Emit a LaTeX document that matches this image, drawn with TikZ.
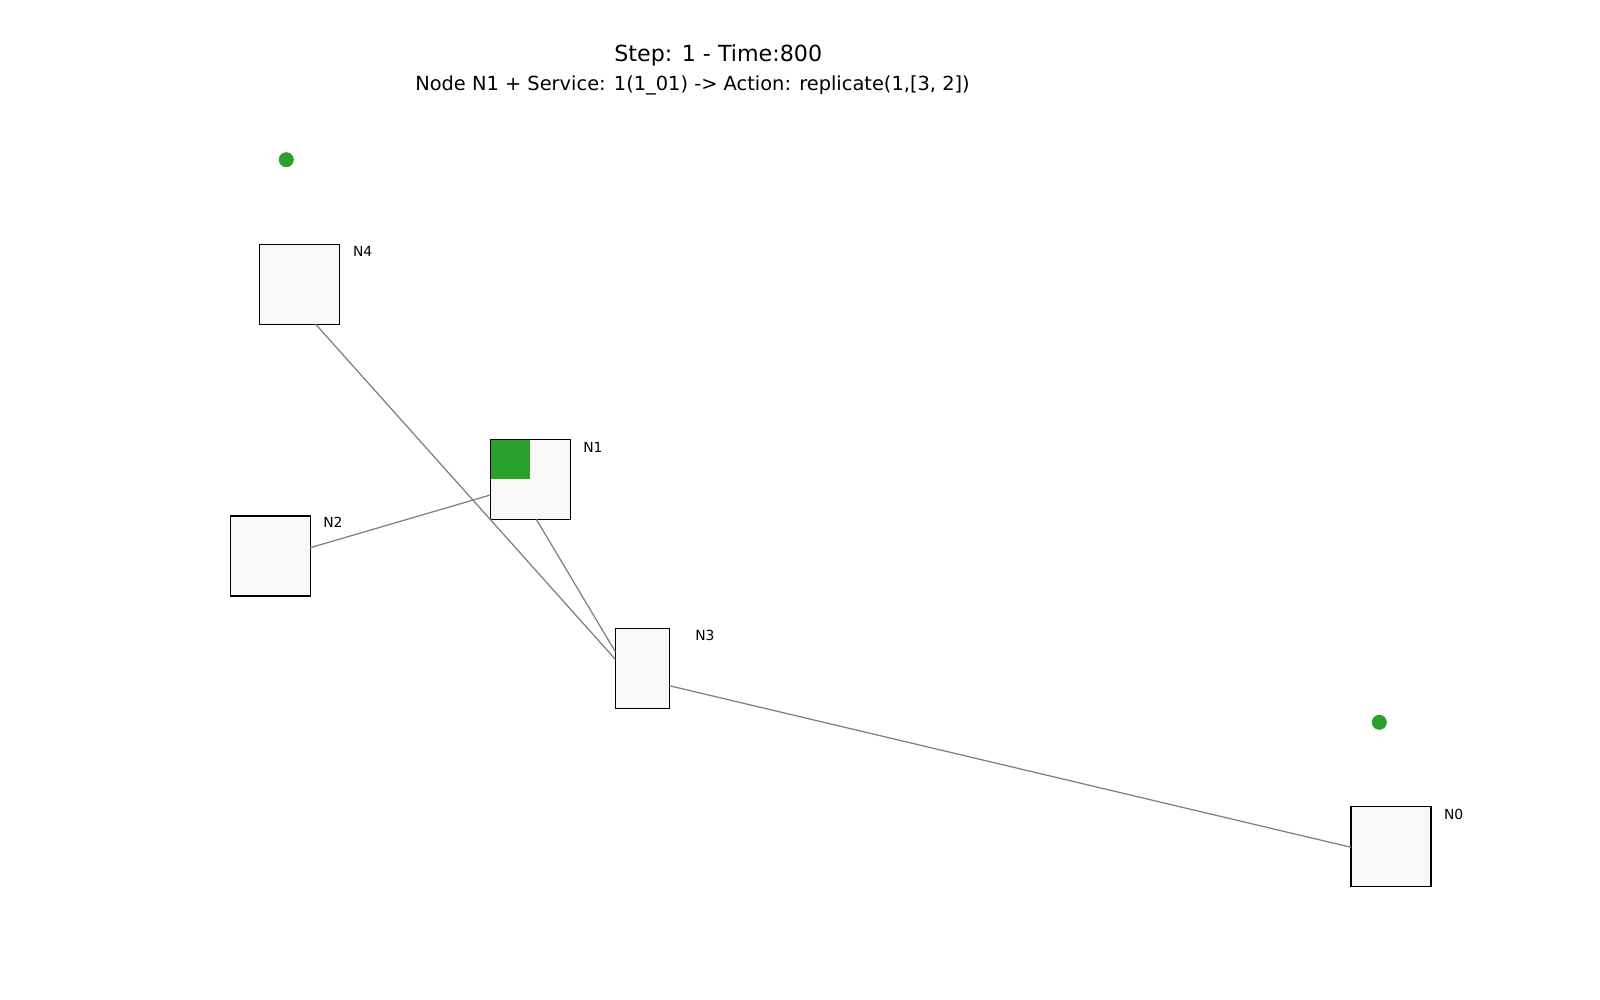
\documentclass[tikz,border=0pt]{standalone}
\usepackage{fontspec}
\setmainfont{DejaVu Sans}
\usetikzlibrary{calc}
\definecolor{boxfill}{HTML}{F8F8F8}
\definecolor{mplgreen}{HTML}{2CA02C}
\definecolor{edgegray}{HTML}{808080}
\tikzset{
  hostbox/.style={draw=black, line width=1.1pt, fill=boxfill, inner sep=0pt, outer sep=0pt, anchor=north west, minimum height=80pt},
  hostlabel/.style={anchor=base west, inner sep=0pt, font=\fontsize{13.9pt}{16pt}\selectfont},
  link/.style={draw=edgegray, line width=1.25pt},
  dot/.style={fill=mplgreen},
}
\begin{document}
\begin{tikzpicture}[x=1pt, y=-1pt]
\useasboundingbox (0,0) rectangle (1600,1000);
% titles
\node[anchor=base, inner sep=0pt, font=\fontsize{22.2pt}{26pt}\selectfont] (title) at (718.3,61.7) {Step: 1 - Time:800};
\node[anchor=base, inner sep=0pt, font=\fontsize{19.4pt}{23pt}\selectfont] (subtitle) at (692.5,91) {Node N1 + Service: 1(1\_01) -> Action: replicate(1,[3, 2])};
% boxes
\node[hostbox, minimum width=80pt] (n4) at (259.3,244.3) {};
\node[hostbox, minimum width=80pt] (n1) at (490.3,439.3) {};
\node[hostbox, minimum width=80pt] (n2) at (230.3,516) {};
\node[hostbox, minimum width=54pt] (n3) at (615.3,628.3) {};
\node[hostbox, minimum width=80pt] (n0) at (1351,806.3) {};
% green service square in N1
\fill[mplgreen] ($(n1.north west)+(0.55,0.55)$) rectangle ($(n1.north west)+(39.4,39.4)$);
% labels
\node[hostlabel] (l4) at ($(n4.north east)+(13.5,11.9)$) {N4};
\node[hostlabel] (l1) at ($(n1.north east)+(12.8,13.0)$) {N1};
\node[hostlabel] (l2) at ($(n2.north east)+(12.8,11.9)$) {N2};
\node[hostlabel] (l3) at ($(n3.north east)+(25.8,12.4)$) {N3};
\node[hostlabel] (l0) at ($(n0.north east)+(12.8,13.0)$) {N0};
% links
\draw[link] ($(n4.south west)+(56.4,0)$) -- ($(n3.north west)+(0,31)$);
\draw[link] ($(n1.south west)+(46,0)$) -- ($(n3.north west)+(0,23.4)$);
\draw[link] ($(n1.north west)+(0,55.7)$) -- ($(n2.north east)+(0,31.7)$);
\draw[link] ($(n3.north east)+(0,57.4)$) -- ($(n0.north west)+(0,41)$);
% green dots
\fill[dot] (286.3,159.7) circle (7.5);
\fill[dot] (1379.3,722.3) circle (7.5);
\end{tikzpicture}
\end{document}
